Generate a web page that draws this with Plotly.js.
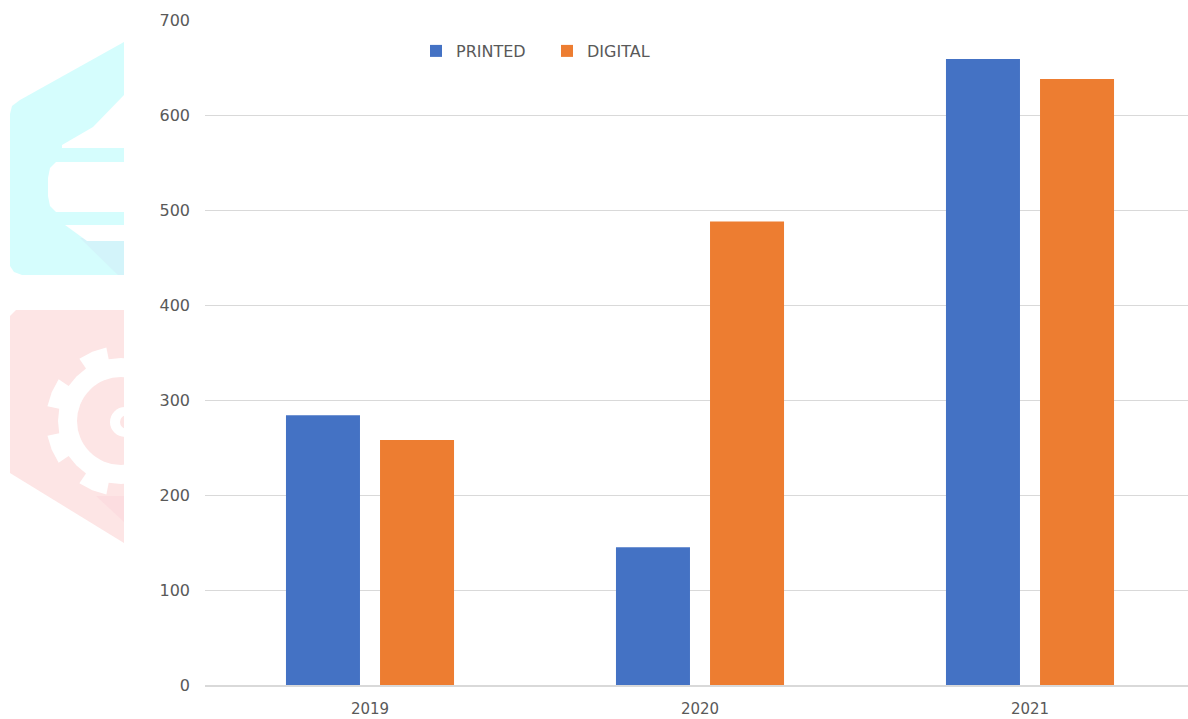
<!DOCTYPE html>
<html>
<head>
<meta charset="utf-8">
<script src="https://cdn.plot.ly/plotly-3.0.1.min.js"></script>
<style>html,body{margin:0;padding:0;background:#fff;overflow:hidden;}#chart{width:1188px;height:719px;}</style>
</head>
<body>
<div id="chart"></div>
<script>
// ---- data ----
const years = ['2019', '2020', '2021'];
const printedValues = [284, 145, 659];
const digitalValues = [258, 488, 638];
const seriesNames = ['PRINTED', 'DIGITAL'];
const yTicks = [0, 100, 200, 300, 400, 500, 600, 700];

// ---- layout helpers (decorative watermark, pixel -> paper coords) ----
const W = 1188, H = 719, ML = 205, MR = 0, MT = 20, MB = 34;
const PW = W - ML - MR, PH = H - MT - MB;
function px(x) { return (x - ML) / PW; }
function py(y) { return (H - MB - y) / PH; }
function poly(pts) {
  return pts.map((p, i) => (i ? 'L' : 'M') + px(p[0]).toFixed(5) + ',' + py(p[1]).toFixed(5)).join(' ') + ' Z';
}
function circle(cx, cy, r, color) {
  return {type: 'circle', xref: 'paper', yref: 'paper', layer: 'below',
    x0: px(cx - r), x1: px(cx + r), y0: py(cy + r), y1: py(cy - r),
    fillcolor: color, line: {width: 0}};
}
function pathShape(pts, color) {
  return {type: 'path', xref: 'paper', yref: 'paper', layer: 'below',
    path: poly(pts), fillcolor: color, line: {width: 0}};
}
function gear(cx, cy, rOuter, rInner, teeth) {
  const pts = [];
  const n = teeth * 4;
  for (let i = 0; i < n; i++) {
    const a0 = (i / n) * 2 * Math.PI;
    const r = (i % 4 === 0 || i % 4 === 1) ? rOuter : rInner;
    const a1 = ((i + 1) / n) * 2 * Math.PI;
    pts.push([cx + r * Math.cos(a0 + Math.PI / 16), cy - r * Math.sin(a0 + Math.PI / 16)]);
    pts.push([cx + r * Math.cos(a1 + Math.PI / 16), cy - r * Math.sin(a1 + Math.PI / 16)]);
  }
  return pts;
}
const cyan = '#d5fdfd', cyanDark = '#d3f4fa', pink = '#fde5e5', pinkDark = '#fcdde0';
const shapes = [
  pathShape([[124,42],[20,100],[12,106],[10,114],[10,266],[14,272],[22,275],[124,275]], cyan),
  pathShape([[80,238],[124,238],[124,275],[118,275]], cyanDark),
  pathShape([[124,95],[93,127],[62,145],[62,148],[124,148]], '#ffffff'),
  pathShape([[124,162],[56,162],[50,168],[48,178],[48,196],[50,206],[56,212],[124,212]], '#ffffff'),
  pathShape([[65,225],[124,225],[124,241],[87,241]], '#ffffff'),
  pathShape([[16,310],[124,310],[124,543],[10,473],[10,316]], pink),
  pathShape([[96,496],[124,496],[124,522]], pinkDark),
  pathShape(gear(121, 421, 75, 63, 8), '#ffffff'),
  circle(121, 421, 44, pink),
  circle(125, 422, 15, '#ffffff'),
  circle(127, 422, 7, pink),
  {type: 'rect', xref: 'paper', yref: 'paper', layer: 'below',
   x0: px(124), x1: px(204), y0: py(H), y1: py(0), fillcolor: '#ffffff', line: {width: 0}}
];

const font = {family: 'DejaVu Sans, sans-serif', size: 16, color: '#595959'};
const xFont = {family: 'DejaVu Sans, sans-serif', size: 15, color: '#595959'};

const traces = [
  {type: 'bar', name: seriesNames[0], x: years, y: printedValues,
   marker: {color: '#4472C4', line: {width: 0}}, hoverinfo: 'x+y+name'},
  {type: 'bar', name: seriesNames[1], x: years, y: digitalValues,
   marker: {color: '#ED7D31', line: {width: 0}}, hoverinfo: 'x+y+name'}
];

const layout = {
  width: W, height: H,
  margin: {l: ML, r: MR, t: MT, b: MB, pad: 0},
  paper_bgcolor: '#ffffff', plot_bgcolor: 'rgba(0,0,0,0)',
  font: font,
  barmode: 'group',
  bargap: 0.43,
  bargroupgap: 0.213,
  showlegend: true,
  legend: {orientation: 'h', x: px(416), xanchor: 'left', y: py(51), yanchor: 'middle',
           font: font, bgcolor: 'rgba(0,0,0,0)', borderwidth: 0,
           entrywidth: 86, entrywidthmode: 'pixels'},
  xaxis: {type: 'category', range: [-0.5, 2.5 - 7 / 330], showgrid: false, zeroline: false,
          showline: true, linecolor: '#d9d9d9', linewidth: 1.5, ticks: '',
          tickfont: xFont, ticklabelstandoff: 9, fixedrange: true},
  yaxis: {range: [0, 700], tickvals: yTicks, ticktext: yTicks.map(String),
          showgrid: true, gridcolor: '#d9d9d9', gridwidth: 1, zeroline: false,
          showline: false, ticks: '', tickfont: font, ticklabelstandoff: 14, fixedrange: true},
  shapes: shapes
};

Plotly.newPlot('chart', traces, layout, {displayModeBar: false, staticPlot: true});
</script>
</body>
</html>
